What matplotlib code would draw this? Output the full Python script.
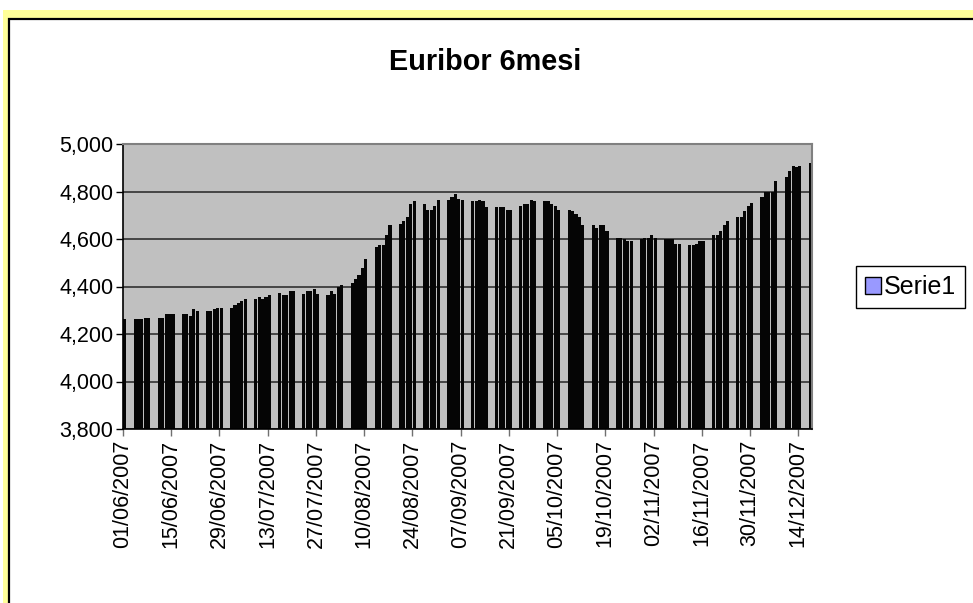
import numpy as np
import pandas as pd
import matplotlib
matplotlib.use('Agg')
import matplotlib.pyplot as plt
import matplotlib.dates as mdates
from matplotlib.patches import Rectangle, Patch

plt.rcParams['font.family'] = ['Liberation Sans', 'DejaVu Sans']

# business days 01/06/2007 .. 17/12/2007
first_day = '2007-06-01'
last_day = '2007-12-17'
axis_end = '2007-12-18'

# Euribor 6 mesi, one value per business day
jun = [4.262,
       4.262, 4.262, 4.262, 4.269, 4.269,
       4.269, 4.269, 4.286, 4.286, 4.286,
       4.286, 4.286, 4.277, 4.304, 4.295,
       4.295, 4.295, 4.304, 4.311, 4.311]
jul = [4.311, 4.321, 4.329, 4.337, 4.346,
       4.346, 4.354, 4.346, 4.354, 4.363,
       4.371, 4.363, 4.363, 4.379, 4.379,
       4.369, 4.379, 4.379, 4.388, 4.369,
       4.363, 4.379, 4.369, 4.397, 4.405]
aug = [4.413, 4.430, 4.447, 4.480, 4.514,
       4.565, 4.573, 4.573, 4.615, 4.657,
       4.665, 4.674, 4.691, 4.749, 4.758,
       4.749, 4.724, 4.724, 4.741, 4.766]
sep = [4.766, 4.775, 4.789, 4.770, 4.766,
       4.758, 4.758, 4.766, 4.758, 4.733,
       4.733, 4.733, 4.733, 4.724, 4.724,
       4.741, 4.749, 4.749, 4.766, 4.758]
oct_ = [4.758, 4.758, 4.749, 4.741, 4.724,
        4.724, 4.716, 4.707, 4.691, 4.657,
        4.657, 4.648, 4.657, 4.657, 4.632,
        4.606, 4.606, 4.598, 4.590, 4.590]
nov = [4.598, 4.606, 4.606, 4.615, 4.606,
       4.598, 4.598, 4.598, 4.581, 4.581,
       4.573, 4.573, 4.581, 4.590, 4.592,
       4.615, 4.615, 4.632, 4.657, 4.674,
       4.691, 4.691, 4.716, 4.741, 4.750]
dec = [4.775, 4.800, 4.800, 4.800, 4.843,
       4.860, 4.885, 4.909, 4.903, 4.909,
       4.918]

values = jun + jul + aug + sep + oct_ + nov + dec
dates = pd.bdate_range(first_day, last_day)

y_ticks = [3.8, 4.0, 4.2, 4.4, 4.6, 4.8, 5.0]
x_ticks = pd.date_range(first_day, last_day, freq='14D')

W, H = 973, 603
fig = plt.figure(figsize=(W / 100, H / 100), dpi=100)
fig.patch.set_facecolor('white')

# yellow selection strip + black chart frame
fig.add_artist(Rectangle((3 / W, 0), 1, 1 - 10 / H, transform=fig.transFigure,
                         facecolor='#FFFF99', edgecolor='none', zorder=-3))
fig.add_artist(Rectangle((8.5 / W, -0.05), 1, 1.05 - 19.5 / H, transform=fig.transFigure,
                         facecolor='white', edgecolor='black', lw=1.6, zorder=-2))

ax = fig.add_axes([123 / W, 1 - 429 / H, 689 / W, 285 / H])
ax.set_facecolor('#C0C0C0')

x = mdates.date2num(dates.to_pydatetime()) + 0.5
ax.bar(x, values, width=0.9, color='#050505', edgecolor='none', zorder=2)

ax.set_ylim(3.8, 5.0)
ax.set_xlim(mdates.date2num(pd.Timestamp(first_day)), mdates.date2num(pd.Timestamp(axis_end)))

ax.set_yticks(y_ticks)
ax.set_yticklabels([f'{v:.3f}'.replace('.', ',') for v in y_ticks], fontsize=15.5)
ax.set_xticks(mdates.date2num(x_ticks.to_pydatetime()))
ax.set_xticklabels([d.strftime('%d/%m/%Y') for d in x_ticks], rotation=90, fontsize=15.5)

ax.yaxis.grid(True, color='#303030', lw=1.2, zorder=1)
ax.set_axisbelow(True)
ax.tick_params(axis='y', length=5, width=1, pad=2, direction='out')
ax.tick_params(axis='x', length=5, width=1, pad=2.5, direction='out', colors='#707070', labelcolor='black')

for s in ['top', 'right']:
    ax.spines[s].set_color('#808080')
    ax.spines[s].set_linewidth(1.5)
for s in ['left', 'bottom']:
    ax.spines[s].set_color('black')
    ax.spines[s].set_linewidth(1.2)

fig.text(485 / W, 1 - 62 / H, 'Euribor 6mesi', ha='center', va='center',
         fontsize=20.8, fontweight='bold')

leg = ax.legend(handles=[Patch(facecolor='#9999FF', edgecolor='black', lw=1)], labels=['Serie1'],
                loc='center left', bbox_to_anchor=(856 / W, 1 - 287 / H),
                bbox_transform=fig.transFigure, fancybox=False, framealpha=1,
                edgecolor='black', fontsize=18, handlelength=0.65, handleheight=0.65,
                handletextpad=0.1, borderpad=0.35, borderaxespad=0)
leg.get_frame().set_linewidth(1)

fig.savefig('out.png', dpi=100)
